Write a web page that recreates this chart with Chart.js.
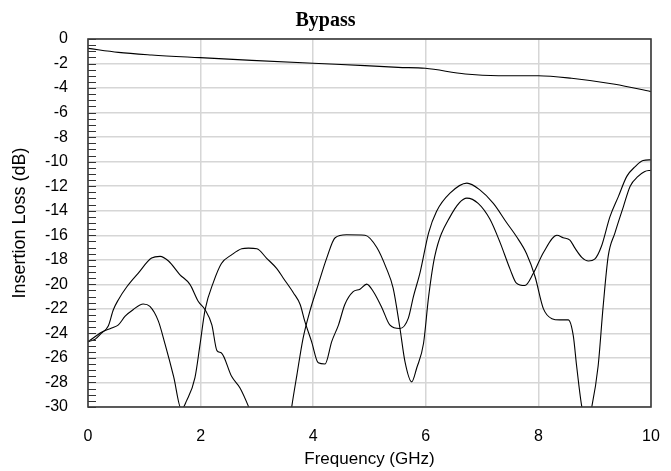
<!DOCTYPE html>
<html>
<head>
<meta charset="utf-8">
<title>Bypass</title>
<script src="https://cdn.jsdelivr.net/npm/chart.js@4.4.1/dist/chart.umd.min.js"></script>
<style>
  html, body { margin: 0; padding: 0; background: #fff; }
  #wrap { width: 671px; height: 471px; }
</style>
</head>
<body>
<div id="wrap"><canvas id="bypass-chart"></canvas></div>
<script>
// tick labels
var xTickValues = [0, 2, 4, 6, 8, 10];
var yTickValues = [0, -2, -4, -6, -8, -10, -12, -14, -16, -18, -20, -22, -24, -26, -28, -30];
var yMinorStep = 0.5;

// through path (top trace)
var freqThru = [0, 0.54, 1.13, 1.99, 2.91, 4.0, 4.92, 5.51, 5.99, 6.7, 7.29, 8.0, 8.59, 9.36, 10];
var lossThru = [-0.76, -1.09, -1.3, -1.52, -1.74, -1.98, -2.17, -2.31, -2.39, -2.85, -2.99, -2.99, -3.2, -3.69, -4.29];

// trace A (starts upper, peak near 1.3 GHz)
var freqA = [0, 0.12, 0.24, 0.36, 0.45, 0.54, 0.69, 0.89, 1.13, 1.28, 1.43, 1.63, 1.81, 1.96, 2.08, 2.2, 2.29, 2.37,
  2.55, 2.7, 2.85, 3.1, 3.3, 3.5, 3.62, 3.71, 3.82, 3.94, 4.09, 4.24, 4.39, 4.59, 4.92, 5.13, 5.3, 5.42, 5.54, 5.63,
  5.75, 5.84, 5.96, 6.05, 6.16, 6.43, 6.73, 6.93, 7.14, 7.32, 7.5, 7.61, 7.76, 7.91, 8.09, 8.33, 8.44, 8.56, 8.65,
  8.77, 8.89, 9.0, 9.12, 9.27, 9.42, 9.57, 9.72, 9.86, 10];
var lossA = [-24.65, -24.5, -23.97, -23.4, -22.07, -21.25, -20.2, -19.1, -17.86, -17.72, -18.1, -19.2, -20.0, -21.4, -22.07, -23.3, -25.4, -25.6,
  -27.5, -28.45, -29.95, -33, -38, -34, -29.95, -27.4, -24.4, -22.2, -20.0, -17.86, -16.2, -15.96, -16.0, -17.0, -18.7, -20.3, -23.56, -26.3,
  -27.95, -26.8, -24.8, -21.0, -17.7, -14.5, -12.97, -13.4, -14.7, -16.6, -18.8, -19.9, -20.1, -19.1, -17.4, -16.0, -16.2, -16.4, -17.05,
  -17.8, -18.1, -17.95, -16.9, -14.5, -12.85, -11.2, -10.4, -9.9, -9.85];

// trace B (starts lower, peak near 1.0 GHz)
var freqB = [0, 0.24, 0.42, 0.54, 0.66, 0.8, 0.98, 1.1, 1.25, 1.37, 1.52, 1.66, 1.75, 1.9, 1.99, 2.08, 2.23, 2.37, 2.55,
  2.73, 2.85, 3.0, 3.17, 3.35, 3.47, 3.65, 3.77, 3.85, 3.97, 4.09, 4.21, 4.33, 4.45, 4.56, 4.71, 4.83, 4.95, 5.07,
  5.22, 5.36, 5.54, 5.69, 5.78, 5.9, 6.05, 6.19, 6.43, 6.73, 6.96, 7.2, 7.44, 7.61, 7.79, 7.94, 8.09, 8.24, 8.38,
  8.53, 8.62, 8.68, 8.77, 8.86, 8.95, 9.06, 9.15, 9.24, 9.36, 9.51, 9.63, 9.77, 9.89, 10];
var lossB = [-24.7, -23.9, -23.56, -23.3, -22.6, -22.07, -21.6, -21.8, -23.0, -24.9, -27.5, -30.2, -29.5, -27.6, -24.9, -22.07, -19.8, -18.3, -17.6,
  -17.1, -17.05, -17.1, -17.86, -18.7, -19.5, -20.7, -21.66, -23.0, -24.65, -26.4, -26.5, -24.65, -23.3, -21.66, -20.6, -20.4, -19.98, -20.6,
  -21.9, -23.3, -23.6, -22.75, -21.0, -19.0, -15.8, -14.06, -12.57, -11.75, -12.3, -13.4, -15.0, -16.1, -17.5, -19.36, -22.0, -22.8, -22.9,
  -22.9, -24.2, -26.7, -29.95, -31.5, -29.95, -26.7, -21.8, -17.7, -15.8, -13.66, -12.0, -11.2, -10.8, -10.7];

var toPoints = function(xs, ys){
  var pts = [];
  for(var i=0; i < xs.length; i++){
    pts.push({x: xs[i], y: ys[i]});
  }
  return pts;
}

var traceStyle = function(label, pts){
  return {
    label: label,
    data: pts,
    borderColor: '#000',
    borderWidth: 1.1,
    pointRadius: 0,
    fill: false,
    cubicInterpolationMode: 'monotone'
  };
}

// frame round the plot + the small inward ticks on the left axis
var frameAndMinorTicks = {
  id: 'frameAndMinorTicks',
  afterDatasetsDraw: function(chart){
    var ctx = chart.ctx;
    var a = chart.chartArea;
    var y = chart.scales.y;
    ctx.save();
    ctx.strokeStyle = '#333';
    ctx.lineWidth = 1;
    ctx.beginPath();
    for(var v = y.max; v >= y.min - 1e-9; v -= yMinorStep){
      var py = Math.round(y.getPixelForValue(v)) + 0.5;
      ctx.moveTo(a.left, py);
      ctx.lineTo(a.left + 8, py);
    }
    ctx.stroke();
    ctx.strokeStyle = '#3a3a3a';
    ctx.lineWidth = 1.6;
    ctx.strokeRect(a.left, a.top, a.right - a.left, a.bottom - a.top);
    ctx.restore();
  }
};

var tickFont = {family: "'Liberation Sans', Arial, sans-serif", size: 16};

new Chart(document.getElementById('bypass-chart'), {
  type: 'line',
  data: {
    datasets: [
      traceStyle('Through', toPoints(freqThru, lossThru)),
      traceStyle('Trace A', toPoints(freqA, lossA)),
      traceStyle('Trace B', toPoints(freqB, lossB))
    ]
  },
  options: {
    responsive: true,
    maintainAspectRatio: false,
    animation: false,
    layout: {padding: {left: 0, right: 20, top: 0, bottom: 0}},
    plugins: {
      legend: {display: false},
      tooltip: {enabled: false},
      title: {
        display: true,
        text: 'Bypass',
        color: '#000',
        font: {family: "'Liberation Serif', 'Times New Roman', serif", size: 20, weight: 'bold', lineHeight: 1.2},
        padding: {top: 9, bottom: 6}
      }
    },
    scales: {
      x: {
        type: 'linear',
        min: 0,
        max: 10,
        afterBuildTicks: function(scale){
          scale.ticks = xTickValues.map(function(v){ return {value: v}; });
        },
        afterFit: function(scale){
          scale.height = 64;
          scale.paddingLeft = 0;
          scale.paddingRight = 0;
        },
        grid: {color: '#d6d6d6', lineWidth: 1.5, drawTicks: false},
        border: {display: false},
        ticks: {color: '#000', font: tickFont, padding: 20, maxRotation: 0},
        title: {
          display: true,
          text: 'Frequency (GHz)',
          color: '#000',
          font: {family: "'Liberation Sans', Arial, sans-serif", size: 17},
          padding: {top: 0, bottom: 1}
        }
      },
      y: {
        type: 'linear',
        min: -30,
        max: 0,
        afterBuildTicks: function(scale){
          scale.ticks = yTickValues.map(function(v){ return {value: v}; });
        },
        afterFit: function(scale){ scale.width = 88; },
        grid: {color: '#d6d6d6', lineWidth: 1.5, drawTicks: false},
        border: {display: false},
        ticks: {color: '#000', font: tickFont, padding: 20},
        title: {
          display: true,
          text: 'Insertion Loss (dB)',
          color: '#000',
          font: {family: "'Liberation Sans', Arial, sans-serif", size: 18},
          padding: {top: 9, bottom: 0}
        }
      }
    }
  },
  plugins: [frameAndMinorTicks]
});
</script>
</body>
</html>
